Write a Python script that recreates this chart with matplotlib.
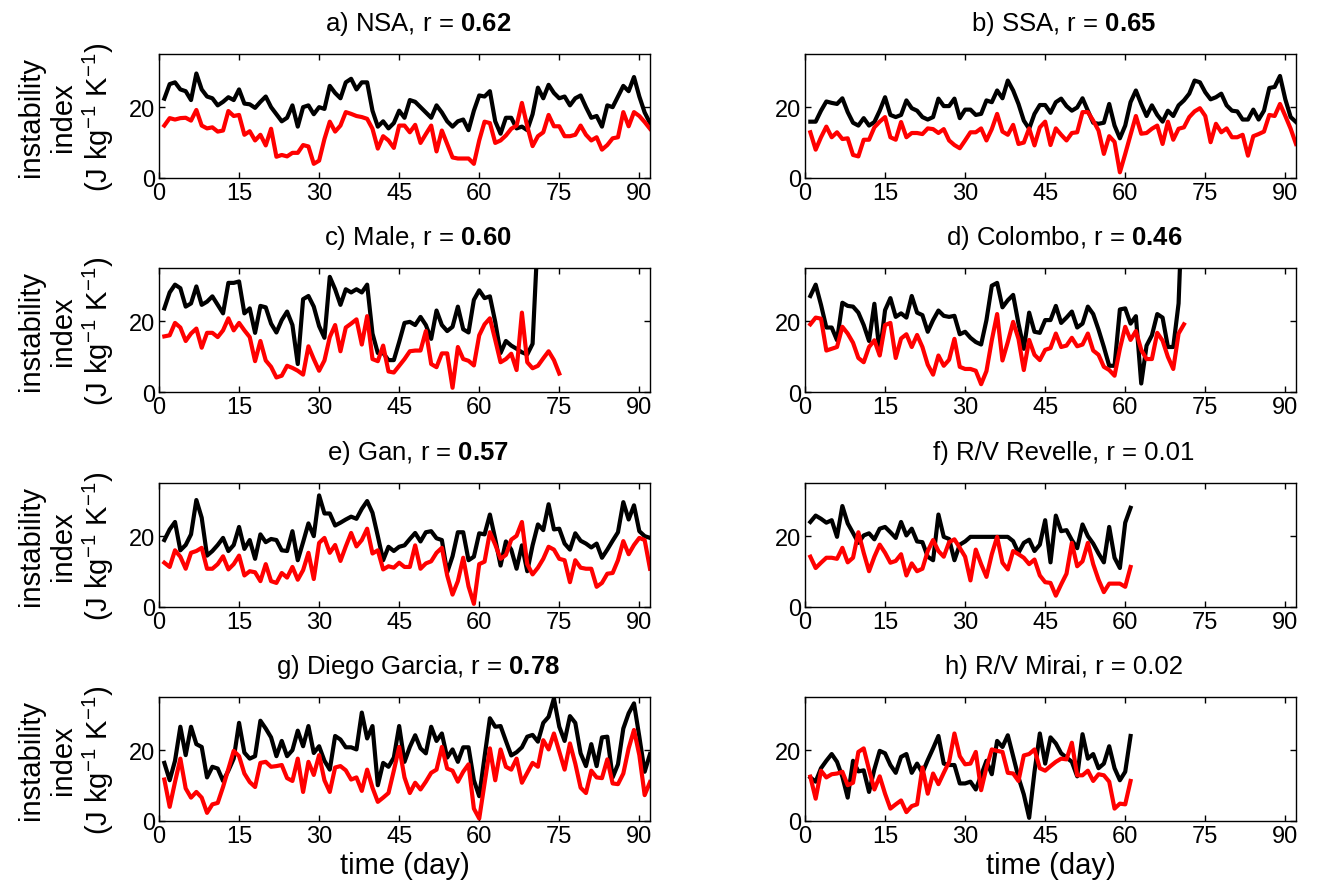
import matplotlib
matplotlib.use('Agg')
import matplotlib.pyplot as plt
import numpy as np

plt.rcParams['font.family'] = ['Liberation Sans', 'DejaVu Sans']
plt.rcParams['mathtext.fontset'] = 'custom'
plt.rcParams['mathtext.rm'] = 'Liberation Sans'
plt.rcParams['mathtext.bf'] = 'Liberation Sans:bold'
plt.rcParams['mathtext.it'] = 'Liberation Sans:italic'

# panel titles (r value, bold when significant)
names = ['a) NSA', 'b) SSA', 'c) Male', 'd) Colombo', 'e) Gan',
         'f) R/V Revelle', 'g) Diego Garcia', 'h) R/V Mirai']
r_vals = ['0.62', '0.65', '0.60', '0.46', '0.57', '0.01', '0.78', '0.02']
r_bold = [True, True, True, True, True, False, True, False]

# black series
nsa_k = [22.4, 26.5, 27, 25, 24.5, 22, 29.5, 25, 23, 22.5, 20.5, 21.5, 22.8, 22, 25, 21, 20.8, 19.8, 21.5, 23,
         20, 18, 16, 17, 20.5, 14.5, 20, 20.5, 18, 20, 19.5, 26, 24, 22.5, 27, 28, 25, 27, 27, 19,
         14.5, 16, 14, 15.5, 19, 17, 22, 21.5, 20, 18.5, 17, 20.5, 18.5, 16, 14.5, 16, 16.5, 13.5, 19, 23.3,
         23, 24.5, 16, 12.5, 17, 17, 14, 14.5, 13.5, 18, 25.5, 22.5, 26.3, 24, 22.5, 23, 20.5, 22.5, 23.3, 20,
         17, 17.5, 14.5, 20.5, 20, 23, 26, 24.5, 28.5, 23, 18.5, 15.5]
ssa_k = [15.9, 15.9, 19, 21.6, 21.2, 20.9, 22.5, 18.6, 15.6, 14.8, 16.9, 14.8, 15.8, 19, 22.8, 17.8, 17.2, 17.8, 21.9, 19.7,
         19, 17.2, 16.5, 17.2, 22.4, 20.3, 20.3, 22.4, 16.9, 19.3, 19.3, 17.8, 18.1, 21.9, 21.4, 24.7, 22.5, 27.5, 24.7, 20.9,
         16.2, 13.9, 18.1, 20.6, 20.6, 18.4, 21.4, 22.4, 20.3, 19, 19.9, 22.5, 19, 15.6, 15.3, 15.6, 20.9, 14.8, 11.2, 14.8,
         21.4, 24.7, 20.9, 17.5, 20.5, 17.8, 15.9, 19, 17.5, 20.5, 21.9, 23.8, 27.5, 27, 24.2, 22.2, 22.8, 23.8, 20.5, 19,
         18.8, 16.5, 16.5, 19.3, 16.5, 19, 25.4, 25.7, 28.8, 22.2, 17.2, 15.8]
male_k = [23.6, 28.1, 30.3, 29.3, 24.1, 25, 29.8, 24.6, 25.5, 27, 24.6, 22.2, 30.8, 30.8, 31.2, 22.2, 23.6, 16.7, 24.3, 23.9,
          19.3, 16.8, 20.3, 22.7, 18.9, 7.9, 26.2, 27.1, 24.1, 18.6, 15.3, 32.5, 29, 24.6, 29, 28.1, 29, 28.1, 30.3, 16.5,
          11, 11, 9, 9, 14.1, 19.5, 19.8, 18.9, 21.2, 18.9, 15, 23, 18.9, 17.2, 18.4, 24.1, 17.7, 16.8, 26, 28.7,
          26.5, 27, 19.8, 11, 14.4, 13.1, 12.2, 11.2, 10.6, 13.6, 45]
colombo_k = [27.1, 30.3, 24.6, 18.2, 18.2, 14.6, 25.2, 24.3, 24.1, 22.4, 18.9, 14.4, 24.9, 10.8, 23.1, 26.5, 21.2, 22.2, 21, 27.1,
             22.4, 21.7, 17, 20.3, 23, 21.5, 21.2, 21.5, 16.3, 17, 15.3, 14.1, 13.4, 20.3, 30, 30.8, 23.9, 25.9, 27.4, 19.3,
             12.2, 22.4, 17, 16.7, 20.3, 20.3, 24.3, 19.5, 21, 22.7, 18.2, 19.3, 24.1, 22, 17.6, 12.7, 7.4, 7.4, 23.3, 23.6,
             19.3, 21.4, 2.4, 13.1, 16, 22, 21, 12.7, 12.7, 25, 65]
gan_k = [18.9, 21.9, 24, 16, 17.5, 20.5, 30.2, 25.2, 14.5, 15.8, 17.5, 19.5, 15.8, 17.5, 22.6, 16.4, 18.9, 13.6, 20.5, 18.3,
         19.2, 18.9, 16, 15.8, 21.4, 13.2, 18.3, 23.6, 20, 31.5, 26.4, 26.4, 23, 23.8, 24.7, 25.5, 24.9, 27.7, 29.9, 26.6,
         20, 13.2, 17, 15.8, 17, 17.4, 19.2, 20.9, 18.5, 21.1, 21.4, 19.4, 18.9, 9.8, 14.3, 21.1, 21.1, 13.2, 14.2, 20.8,
         20.5, 26.1, 19.2, 11.7, 18.5, 16.2, 10.8, 17.4, 10.1, 17.4, 23.3, 21.7, 29, 21.9, 22.1, 17.9, 16.2, 20.8, 18.7, 17.9,
         16.8, 17.9, 13.9, 16.2, 18.7, 21.1, 29.6, 24.7, 28.7, 21.4, 20, 19.5]
revelle_k = [24, 25.8, 24.9, 23.8, 24.5, 19.8, 28.5, 23.6, 20.9, 18.1, 20.2, 20.8, 19.1, 22.1, 22.6, 21.1, 19.5, 24, 20.2, 22.1,
             18.5, 18.3, 14.2, 13.2, 26.1, 19.8, 19.2, 13.2, 17.6, 18.5, 19.8, 19.8, 19.8, 19.8, 19.8, 19.8, 19.8, 19.8, 18.6, 15.3,
             18.1, 19, 15.8, 17.6, 24.5, 12.6, 25.8, 21.4, 21.7, 18.9, 16.6, 23.3, 20, 17.9, 15.1, 12.6, 22.6, 13.9, 11, 23.8,
             28]
diego_k = [16.4, 11.5, 17, 26.6, 18.6, 26.6, 21.7, 20.9, 12.3, 15.3, 14.8, 11.3, 14.2, 17.6, 27.7, 19.3, 17.6, 18.3, 28.3, 26.1,
           23.6, 18.3, 22.6, 18.3, 20, 25.5, 21.1, 26.8, 19.2, 21.1, 17, 14.5, 24, 23, 20.8, 20.8, 20.2, 30.6, 23.3, 26.8,
           10.1, 16.4, 15.3, 17.9, 26.8, 16.7, 20.9, 24.2, 20.5, 19.1, 26.6, 22.6, 24.7, 17.9, 20.2, 16.7, 20.8, 20.8, 11.5, 7,
           18.1, 29, 26.6, 26.8, 22.6, 18.5, 19.4, 20.8, 23.8, 24.3, 22.4, 27.7, 29.4, 34.6, 26.6, 22.6, 29.6, 27.7, 19.1, 15.5,
           21.7, 15.5, 23.6, 23.8, 12.3, 16, 26.1, 30.4, 33.2, 23.8, 13.9, 18.9]
mirai_k = [12.3, 11.1, 14.9, 17, 18.9, 16.7, 12.5, 6.6, 17, 14, 14.3, 8.2, 14.6, 19.8, 19.1, 15.8, 13.6, 18.1, 18.9, 13.6,
           16.2, 13.6, 17.2, 20.5, 24, 16.2, 15.8, 15.8, 10.6, 10.6, 11.1, 8.9, 12.9, 17, 13.2, 22.6, 20.9, 24.2, 18.3, 12.3,
           7.5, 0.9, 13.9, 24.7, 16.2, 23.6, 21.9, 19.1, 17.9, 16.7, 12.6, 24.5, 17.6, 18.9, 14.9, 16.2, 21.1, 14.9, 11.5, 13.9,
           24]

# red series
nsa_r = [14.8, 16.9, 16.5, 16.9, 17, 16.2, 19.2, 14.8, 14, 14.3, 13.1, 13.4, 18.9, 17.5, 17.8, 12.2, 13.2, 10.6, 12.2, 9.2,
         13.9, 6, 6.5, 6.1, 7.1, 7.1, 9.3, 8.9, 4, 4.9, 11, 15.9, 13.1, 14.8, 18.6, 18.1, 17.5, 17.2, 16.7, 13.9,
         8.3, 11.8, 10.6, 8.5, 14.8, 14.8, 12.9, 15, 9.9, 12.4, 14.8, 7.5, 13.4, 9.6, 5.8, 5.5, 5.5, 5.5, 4, 10.6,
         15.9, 15.5, 9.9, 10.6, 12, 13.9, 14.8, 21.2, 14.6, 9, 11.8, 12.9, 17.8, 14.6, 14.6, 11.8, 11.8, 12.2, 14.8, 12.2,
         10.6, 11.5, 8, 9.3, 11.2, 11.5, 18.6, 14.6, 18.6, 17.5, 15.8, 13.9]
ssa_r = [12.9, 8, 11.5, 14.5, 11.5, 12.9, 11, 11.2, 6.5, 6.1, 10.8, 10.8, 14.3, 15.9, 17.2, 11.5, 10.8, 15.8, 11.5, 12.7,
         12.7, 12.4, 14, 13.8, 12.7, 13.8, 10.6, 9.3, 8.4, 10.6, 12.9, 12.9, 14, 10.6, 13.8, 18.1, 13.1, 12.2, 15, 9.6,
         10, 14, 9.2, 14.3, 15.9, 9.3, 14, 12.2, 10.6, 12.7, 12.9, 18.6, 18.6, 16.2, 13.4, 6.8, 11.8, 10.2, 1.6, 6.8,
         12.2, 17.5, 12.5, 12.7, 13.9, 14.8, 9.6, 15.9, 10.8, 13.9, 14.3, 17.2, 18.8, 19.7, 17.5, 10.1, 15.3, 12.9, 14, 11.5,
         11.5, 12.2, 6.3, 11.8, 12.4, 13.1, 17.8, 17.5, 20.9, 17.5, 13.9, 9.6]
male_r = [15.7, 16, 19.5, 18.2, 14.4, 16.5, 17.9, 12.5, 16.7, 16.7, 15.5, 17.4, 20.8, 17.4, 19.5, 17.4, 15.5, 8.7, 14.4, 8.9,
          7.1, 4.1, 4.6, 7.4, 6.8, 6, 4.9, 12.9, 9.3, 6, 8.9, 15.5, 18.9, 11.5, 18.2, 19.3, 20.5, 13.4, 21.4, 9.3,
          8.7, 13.1, 5.8, 5.5, 7.4, 9.3, 11.5, 11.7, 11.7, 17.2, 7.9, 7, 10.9, 10.9, 1.2, 12.7, 9.3, 8.8, 7.5, 16,
          19.1, 20.8, 14.7, 8.4, 9.3, 10.8, 6.2, 22.4, 8.4, 6.7, 7.4, 9.5, 11.5, 9, 5.2]
colombo_r = [19.1, 21, 20.7, 11.7, 12.2, 12.7, 18.4, 16.5, 13.9, 9.6, 8.4, 12.7, 14.6, 10.3, 18.9, 19.5, 9.6, 15.1, 16.3, 12.7,
             16.1, 12.7, 7.7, 4.9, 10.3, 7.4, 9.1, 15, 7.1, 6.5, 6.5, 6, 2.2, 5.9, 14.6, 22, 8.9, 14.1, 19.8, 15,
             6.2, 14.7, 10.5, 9, 11.9, 12.4, 16.5, 12.7, 13.1, 15.3, 12.9, 13.4, 16.5, 11.7, 10.5, 7.1, 6.2, 4.6, 12.2, 18.4,
             14.7, 17.2, 11.9, 9.3, 9.3, 16.7, 14.5, 9.9, 6.5, 16.5, 19.1]
gan_r = [12.5, 11.3, 16, 14.2, 10.8, 15.3, 15.8, 16.7, 10.8, 10.8, 12.1, 14.3, 10.6, 12.1, 14.5, 8.9, 10.1, 9.8, 7.3, 12.1,
         7.3, 6.8, 9.6, 8.3, 11.3, 7.7, 10.4, 15.3, 7.9, 18.1, 19.5, 15.3, 17.5, 13, 17.1, 20.9, 17.1, 18.9, 22.1, 15.1,
         16, 10.6, 11.5, 11.1, 12.5, 11.3, 11.3, 17.4, 10.8, 12.3, 12.9, 15.3, 16.7, 8.9, 3.5, 7.3, 13.9, 5.8, 0.9, 12.1,
         12.8, 21.1, 17.6, 13.6, 14.7, 19, 20.1, 24, 12.1, 9.2, 11.1, 13.6, 17, 16.2, 13.6, 13.2, 7, 13.2, 11.1, 10.8,
         10.8, 5.7, 6.8, 9.4, 9.6, 13.2, 18.6, 14.9, 17.5, 19.5, 18.9, 10.8]
revelle_r = [14.2, 11, 12.5, 13.9, 13.9, 13.6, 16.7, 12.6, 13.9, 21.1, 15.3, 10.1, 14.2, 17.6, 15.3, 12.5, 13, 14.9, 8.9, 12.3,
             10.1, 10.8, 15.8, 18.9, 15.8, 14.2, 18.3, 19.1, 16.7, 14.2, 7.5, 16.2, 12.1, 8.5, 14.9, 19.8, 12.5, 10.6, 15.8, 14.9,
             13.9, 12.1, 13.4, 8.9, 7, 6.8, 3.2, 6.4, 9.4, 18.1, 11.5, 12.9, 18.1, 12.1, 7.7, 4.2, 6.6, 6.6, 6.6, 5.7,
             11.3]
diego_r = [11.7, 4, 11, 17.6, 9.2, 6.6, 8.2, 6.6, 2.3, 4.7, 5.1, 9.6, 14.7, 19.8, 18.3, 13.4, 11, 9.6, 16.4, 16.7,
           15.3, 15.5, 15.8, 12.1, 11.3, 17.6, 8.2, 16.7, 13, 18.6, 11.5, 8.2, 15.1, 15.5, 14.3, 11.7, 12.3, 8.5, 14.5, 9.4,
           5.4, 6.6, 7.9, 14.2, 20.9, 12.3, 7.9, 10.8, 8.9, 11.1, 13.6, 14.5, 20.9, 14.8, 14.2, 11.1, 13.9, 16, 3.5, 0.7,
           10.6, 20.5, 11.5, 20.2, 15.3, 14.5, 17.6, 10.8, 13.6, 16.4, 15.3, 22.8, 20.2, 24.7, 19.6, 14.5, 21.9, 16.2, 9.4, 7.9,
           14.2, 12.3, 12.1, 17.4, 10.6, 10.4, 13.4, 20.5, 25.7, 18.6, 7.3, 11]
mirai_r = [12.5, 6.3, 14.2, 12.3, 13.2, 13.4, 13.9, 10.1, 10.8, 19.5, 20.5, 14.5, 8.9, 12.6, 7.7, 3.5, 4.7, 5.8, 2.5, 4.2,
           4.7, 15.1, 7.7, 13.4, 10.4, 13.6, 16.7, 24.7, 18.3, 16, 16.2, 19.5, 8.7, 15.1, 20.2, 19.8, 19.5, 13.6, 13.4, 11.3,
           18.5, 18.9, 20.2, 14.9, 14.2, 15.5, 16.7, 17.6, 17.4, 22.1, 12.9, 12.9, 14.2, 11.3, 13.2, 12.9, 11.1, 3.5, 4.9, 4.7,
           11.3]

black = [nsa_k, ssa_k, male_k, colombo_k, gan_k, revelle_k, diego_k, mirai_k]
red = [nsa_r, ssa_r, male_r, colombo_r, gan_r, revelle_r, diego_r, mirai_r]

W, H = 1318, 895
fig = plt.figure(figsize=(W / 100, H / 100), dpi=100)

col_x = [159, 805]
ax_w = 491
row_top = [55, 269, 484, 698]
ax_h = 124

for i in range(8):
    row, col = i // 2, i % 2
    x0 = col_x[col]
    y0 = row_top[row] + ax_h
    ax = fig.add_axes([x0 / W, 1 - y0 / H, ax_w / W, ax_h / H])
    k = np.array(black[i])
    r = np.array(red[i])
    ax.plot(np.arange(1, len(k) + 1), k, color='k', lw=3)
    ax.plot(np.arange(1, len(r) + 1), r, color='#ff0000', lw=3)
    ax.set_xlim(0, 92)
    ax.set_ylim(0, 35)
    ax.set_xticks(np.arange(0, 91, 15))
    ax.set_yticks([0, 20])
    ax.tick_params(direction='in', top=True, right=True, labelsize=17,
                   length=4, width=1, pad=3)
    for s in ax.spines.values():
        s.set_linewidth(1)
    rv = r'$\mathbf{' + r_vals[i] + '}$' if r_bold[i] else r_vals[i]
    ax.set_title(names[i] + ', r = ' + rv, fontsize=18.5, pad=17, x=0.527)
    if col == 0:
        ax.set_ylabel('instability\nindex\n(J kg$^{-1}$ K$^{-1}$)',
                      fontsize=21, linespacing=1.15)
        ax.yaxis.set_label_coords(-0.088, 0.5)
    if row == 3:
        ax.set_xlabel('time (day)', fontsize=21, labelpad=3)

fig.savefig('out.png', dpi=100)
